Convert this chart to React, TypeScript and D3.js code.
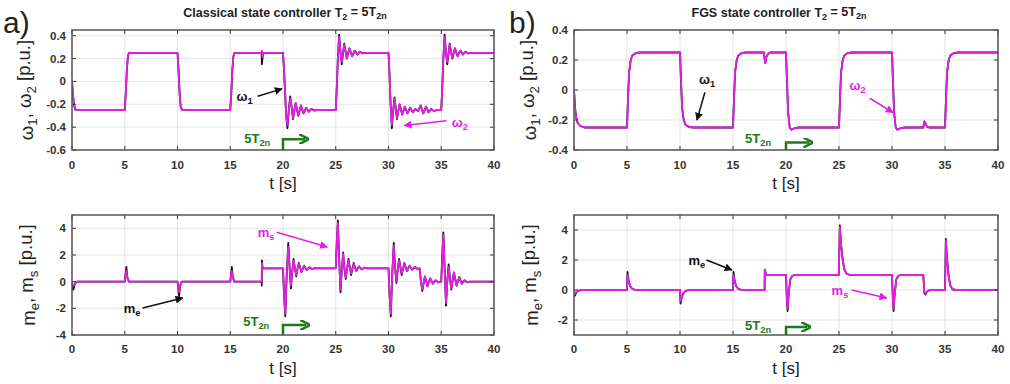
import React from 'react';
import * as d3 from 'd3';

type Pt = [number, number];

const W = 1010;
const H = 384;
const FONT = '"Liberation Sans", Arial, sans-serif';
const MAGENTA = '#e21fe2';
const GREEN = '#1d7a1d';

const timeTicks = [0, 5, 10, 15, 20, 25, 30, 35, 40];
const omegaTicksA = [-0.6, -0.4, -0.2, 0, 0.2, 0.4];
const omegaTicksB = [-0.4, -0.2, 0, 0.2, 0.4];
const torqueTicksA = [-4, -2, 0, 2, 4];
const torqueTicksB = [-2, 0, 2, 4];

// a) classical controller, speeds (omega2 magenta, omega1 black)
const omega2A: Pt[] = [
  [0, 0], [0.1, -0.12], [0.2, -0.2], [0.3, -0.24], [0.45, -0.25],
  [5.0, -0.25], [5.1, -0.1], [5.2, 0.1], [5.3, 0.22], [5.4, 0.25],
  [10.0, 0.25], [10.1, 0.1], [10.2, -0.1], [10.3, -0.22], [10.45, -0.25],
  [15.0, -0.25], [15.1, -0.1], [15.2, 0.1], [15.3, 0.22], [15.4, 0.25],
  [17.95, 0.25], [18.0, 0.27], [18.05, 0.21], [18.1, 0.24], [18.2, 0.25],
  [20.0, 0.25], [20.1, 0.1], [20.2, -0.1], [20.3, -0.3], [20.42, -0.38], [20.55, -0.25], [20.68, -0.15],
  [20.82, -0.22], [20.95, -0.32], [21.08, -0.25], [21.2, -0.19], [21.45, -0.3], [21.7, -0.21], [21.95, -0.28],
  [22.2, -0.23], [22.45, -0.265], [22.7, -0.24], [22.95, -0.255], [23.2, -0.25],
  [25.0, -0.25], [25.1, -0.05], [25.2, 0.2], [25.32, 0.39], [25.45, 0.25], [25.57, 0.17], [25.8, 0.32],
  [26.05, 0.2], [26.3, 0.29], [26.55, 0.22], [26.8, 0.27], [27.05, 0.235], [27.3, 0.26], [27.55, 0.245], [27.8, 0.25],
  [30.0, 0.25], [30.1, 0.05], [30.2, -0.2], [30.32, -0.38], [30.45, -0.25], [30.57, -0.15], [30.8, -0.32],
  [31.05, -0.2], [31.3, -0.29], [31.55, -0.22], [31.8, -0.28], [32.05, -0.23], [32.3, -0.27], [32.55, -0.24],
  [32.8, -0.26], [33.05, -0.21], [33.3, -0.28], [33.55, -0.22], [33.8, -0.27], [34.05, -0.24], [34.3, -0.26], [34.6, -0.25],
  [35.0, -0.25], [35.1, -0.05], [35.2, 0.2], [35.32, 0.39], [35.45, 0.25], [35.57, 0.17], [35.8, 0.32],
  [36.05, 0.2], [36.3, 0.29], [36.55, 0.22], [36.8, 0.27], [37.05, 0.235], [37.3, 0.26], [37.55, 0.245], [37.8, 0.25],
  [40, 0.25],
];

const omega1A: Pt[] = [
  [0, 0], [0.1, -0.13], [0.2, -0.21], [0.3, -0.245], [0.45, -0.25],
  [5.0, -0.25], [5.1, -0.1], [5.2, 0.1], [5.3, 0.22], [5.4, 0.25],
  [10.0, 0.25], [10.1, 0.1], [10.2, -0.1], [10.3, -0.22], [10.45, -0.25],
  [15.0, -0.25], [15.1, -0.1], [15.2, 0.1], [15.3, 0.22], [15.4, 0.25],
  [17.97, 0.25], [18.0, 0.15], [18.05, 0.2], [18.12, 0.25],
  [20.0, 0.25], [20.1, 0.1], [20.2, -0.1], [20.3, -0.3], [20.42, -0.41], [20.55, -0.25], [20.68, -0.13],
  [20.82, -0.22], [20.95, -0.33], [21.08, -0.25], [21.2, -0.19], [21.45, -0.3], [21.7, -0.21], [21.95, -0.28],
  [22.2, -0.23], [22.45, -0.265], [22.7, -0.24], [22.95, -0.255], [23.2, -0.25],
  [25.0, -0.25], [25.1, -0.05], [25.2, 0.2], [25.32, 0.41], [25.45, 0.25], [25.57, 0.15], [25.8, 0.33],
  [26.05, 0.2], [26.3, 0.29], [26.55, 0.22], [26.8, 0.27], [27.05, 0.235], [27.3, 0.26], [27.55, 0.245], [27.8, 0.25],
  [30.0, 0.25], [30.1, 0.05], [30.2, -0.2], [30.32, -0.41], [30.45, -0.25], [30.57, -0.14], [30.8, -0.33],
  [31.05, -0.2], [31.3, -0.29], [31.55, -0.22], [31.8, -0.28], [32.05, -0.23], [32.3, -0.27], [32.55, -0.24],
  [32.8, -0.26], [33.05, -0.21], [33.3, -0.28], [33.55, -0.22], [33.8, -0.27], [34.05, -0.24], [34.3, -0.26], [34.6, -0.25],
  [35.0, -0.25], [35.1, -0.05], [35.2, 0.2], [35.32, 0.41], [35.45, 0.25], [35.57, 0.15], [35.8, 0.33],
  [36.05, 0.2], [36.3, 0.29], [36.55, 0.22], [36.8, 0.27], [37.05, 0.235], [37.3, 0.26], [37.55, 0.245], [37.8, 0.25],
  [40, 0.25],
];

// a) torques (ms magenta, me black)
const msA: Pt[] = [
  [0, 0], [0.05, -0.3], [0.15, -0.3], [0.3, -0.1], [0.5, 0],
  [5.0, 0], [5.08, 0.5], [5.15, 0.8], [5.25, 0.3], [5.4, 0],
  [10.0, 0], [10.08, -0.5], [10.15, -0.8], [10.25, -0.3], [10.4, 0],
  [15.0, 0], [15.08, 0.5], [15.15, 0.8], [15.25, 0.3], [15.4, 0],
  [17.98, 0], [18.0, 1.4], [18.05, 1.1], [18.1, 1.0],
  [20.0, 1.0], [20.1, -1.0], [20.22, -2.4], [20.35, 0.5], [20.5, 2.6], [20.63, 1.0], [20.75, -0.3],
  [20.88, 0.8], [21.0, 1.6], [21.13, 1.0], [21.25, 0.5], [21.38, 1.0], [21.5, 1.35], [21.75, 0.75],
  [22.0, 1.2], [22.25, 0.88], [22.5, 1.08], [22.75, 0.95], [23.0, 1.02], [23.3, 1.0],
  [25.0, 1.0], [25.1, 3.0], [25.2, 4.4], [25.32, 1.8], [25.45, -0.6], [25.57, 0.8], [25.7, 2.1],
  [25.82, 1.0], [25.95, 0.3], [26.2, 1.6], [26.45, 0.6], [26.7, 1.35], [26.95, 0.8], [27.2, 1.15],
  [27.45, 0.92], [27.7, 1.05], [28.0, 1.0],
  [30.0, 1.0], [30.1, -1.0], [30.22, -2.4], [30.35, 0.5], [30.5, 2.7], [30.63, 1.0], [30.75, 0.0],
  [30.88, 0.9], [31.0, 1.6], [31.25, 0.6], [31.5, 1.4], [31.75, 0.8], [32.0, 1.2], [32.25, 0.9],
  [32.5, 1.1], [32.75, 0.95], [32.95, 1.0], [33.05, 0.2], [33.2, -0.6], [33.45, 0.4], [33.7, -0.35],
  [33.95, 0.25], [34.2, -0.15], [34.45, 0.1], [34.7, -0.05], [34.95, 0],
  [35.0, 0], [35.1, 2.0], [35.2, 3.5], [35.32, 1.0], [35.45, -1.6], [35.57, 0.0], [35.7, 1.1],
  [35.82, 0.3], [35.95, -0.5], [36.2, 0.7], [36.45, -0.3], [36.7, 0.35], [36.95, -0.15], [37.2, 0.1],
  [37.45, -0.05], [37.7, 0], [40, 0],
];

const meA: Pt[] = [
  [0, 0], [0.05, -0.4], [0.12, -0.6], [0.3, -0.1], [0.5, 0],
  [5.0, 0], [5.08, 0.6], [5.15, 1.1], [5.25, 0.3], [5.4, 0],
  [10.0, 0], [10.08, -0.6], [10.15, -1.1], [10.25, -0.3], [10.4, 0],
  [15.0, 0], [15.08, 0.6], [15.15, 1.1], [15.25, 0.3], [15.4, 0],
  [17.97, 0], [17.99, -0.3], [18.0, 1.6], [18.05, 1.1], [18.1, 1.0],
  [20.0, 1.0], [20.1, -1.0], [20.22, -2.6], [20.35, 0.5], [20.5, 2.9], [20.63, 1.0], [20.75, -0.5],
  [20.88, 0.8], [21.0, 1.7], [21.13, 1.0], [21.25, 0.4], [21.38, 1.0], [21.5, 1.4], [21.75, 0.72],
  [22.0, 1.2], [22.25, 0.88], [22.5, 1.08], [22.75, 0.95], [23.0, 1.02], [23.3, 1.0],
  [25.0, 1.0], [25.1, 3.0], [25.2, 4.6], [25.32, 1.8], [25.45, -0.8], [25.57, 0.8], [25.7, 2.2],
  [25.82, 1.0], [25.95, 0.2], [26.2, 1.7], [26.45, 0.5], [26.7, 1.4], [26.95, 0.8], [27.2, 1.15],
  [27.45, 0.92], [27.7, 1.05], [28.0, 1.0],
  [30.0, 1.0], [30.1, -1.0], [30.22, -2.6], [30.35, 0.5], [30.5, 2.9], [30.63, 1.0], [30.75, -0.1],
  [30.88, 0.9], [31.0, 1.7], [31.25, 0.5], [31.5, 1.4], [31.75, 0.8], [32.0, 1.2], [32.25, 0.9],
  [32.5, 1.1], [32.75, 0.95], [32.95, 1.0], [33.05, 0.2], [33.2, -0.7], [33.45, 0.4], [33.7, -0.35],
  [33.95, 0.25], [34.2, -0.15], [34.45, 0.1], [34.7, -0.05], [34.95, 0],
  [35.0, 0], [35.1, 2.0], [35.2, 3.7], [35.32, 1.0], [35.45, -1.8], [35.57, 0.0], [35.7, 1.3],
  [35.82, 0.3], [35.95, -0.6], [36.2, 0.7], [36.45, -0.3], [36.7, 0.35], [36.95, -0.15], [37.2, 0.1],
  [37.45, -0.05], [37.7, 0], [40, 0],
];

// b) FGS controller, speed (both speeds overlap)
const omegaB: Pt[] = [
  [0, 0], [0.1, -0.12], [0.2, -0.18], [0.35, -0.22], [0.6, -0.24], [1.0, -0.25],
  [5.0, -0.25], [5.1, -0.05], [5.2, 0.12], [5.35, 0.2], [5.5, 0.23], [5.8, 0.245], [6.2, 0.25],
  [10.0, 0.25], [10.1, 0.05], [10.2, -0.12], [10.35, -0.2], [10.5, -0.23], [10.8, -0.245], [11.2, -0.25],
  [15.0, -0.25], [15.1, -0.05], [15.2, 0.12], [15.35, 0.2], [15.5, 0.23], [15.8, 0.245], [16.2, 0.25],
  [17.9, 0.25], [18.0, 0.2], [18.05, 0.18], [18.15, 0.22], [18.3, 0.24], [18.5, 0.25],
  [20.0, 0.25], [20.1, 0.05], [20.2, -0.15], [20.35, -0.25], [20.5, -0.265], [20.8, -0.255], [21.2, -0.25],
  [25.0, -0.25], [25.1, -0.05], [25.2, 0.12], [25.35, 0.2], [25.5, 0.23], [25.8, 0.245], [26.2, 0.25],
  [30.0, 0.25], [30.1, 0.05], [30.2, -0.15], [30.35, -0.25], [30.5, -0.265], [30.8, -0.255], [31.2, -0.25],
  [32.95, -0.25], [33.05, -0.21], [33.15, -0.22], [33.3, -0.245], [33.5, -0.25],
  [35.0, -0.25], [35.1, -0.05], [35.2, 0.12], [35.35, 0.2], [35.5, 0.23], [35.8, 0.245], [36.2, 0.25],
  [40, 0.25],
];

// b) torques
const msB: Pt[] = [
  [0, 0], [0.03, -0.3], [0.1, -0.25], [0.25, -0.1], [0.5, -0.03], [0.8, 0],
  [5.0, 0], [5.05, 1.0], [5.15, 0.6], [5.3, 0.25], [5.5, 0.08], [5.8, 0],
  [10.0, 0], [10.05, -0.75], [10.15, -0.5], [10.3, -0.22], [10.5, -0.08], [10.8, 0],
  [15.0, 0], [15.05, 1.0], [15.15, 0.6], [15.3, 0.25], [15.5, 0.08], [15.8, 0],
  [17.98, 0], [18.0, 1.35], [18.1, 1.1], [18.2, 1.0],
  [20.0, 1.0], [20.08, -0.5], [20.15, -1.25], [20.25, -0.3], [20.4, 0.7], [20.6, 0.95], [20.8, 1.0],
  [24.98, 1.0], [25.08, 4.2], [25.2, 3.0], [25.35, 2.0], [25.5, 1.4], [25.7, 1.1], [26.0, 1.0],
  [30.0, 1.0], [30.08, -0.5], [30.15, -1.25], [30.25, -0.3], [30.4, 0.7], [30.6, 0.95], [30.8, 1.0],
  [32.95, 1.0], [33.05, -0.15], [33.15, -0.25], [33.3, -0.1], [33.5, -0.02], [33.7, 0],
  [35.0, 0], [35.08, 3.3], [35.2, 2.0], [35.35, 0.9], [35.5, 0.3], [35.7, 0.05], [36.0, 0],
  [40, 0],
];

const meB: Pt[] = [
  [0, 0], [0.03, -0.4], [0.1, -0.35], [0.25, -0.12], [0.5, -0.03], [0.8, 0],
  [5.0, 0], [5.05, 1.2], [5.15, 0.65], [5.3, 0.25], [5.5, 0.08], [5.8, 0],
  [10.0, 0], [10.05, -0.9], [10.15, -0.55], [10.3, -0.22], [10.5, -0.08], [10.8, 0],
  [15.0, 0], [15.05, 1.2], [15.15, 0.65], [15.3, 0.25], [15.5, 0.08], [15.8, 0],
  [17.98, 0], [18.0, 1.35], [18.1, 1.1], [18.2, 1.0],
  [20.0, 1.0], [20.08, -0.6], [20.15, -1.4], [20.25, -0.3], [20.4, 0.7], [20.6, 0.95], [20.8, 1.0],
  [24.98, 1.0], [25.08, 4.3], [25.2, 3.0], [25.35, 2.0], [25.5, 1.4], [25.7, 1.1], [26.0, 1.0],
  [30.0, 1.0], [30.08, -0.6], [30.15, -1.4], [30.25, -0.3], [30.4, 0.7], [30.6, 0.95], [30.8, 1.0],
  [32.95, 1.0], [33.05, -0.2], [33.15, -0.3], [33.3, -0.1], [33.5, -0.02], [33.7, 0],
  [35.0, 0], [35.08, 3.4], [35.2, 2.0], [35.35, 0.9], [35.5, 0.3], [35.7, 0.05], [36.0, 0],
  [40, 0],
];

type Scales = { x: d3.ScaleLinear<number, number>; y: d3.ScaleLinear<number, number> };

// text made of [string, isSubscript] parts, rendered as tspans without empty ones
type Part = [string, boolean];
function richText(parts: Part[]) {
  let prevSub = false;
  return parts.map(([s, sub], i) => {
    let dy: string | undefined;
    if (sub && !prevSub) dy = '0.32em';
    else if (!sub && prevSub) dy = '-0.32em';
    prevSub = sub;
    return (
      <tspan key={i} dy={dy} fontSize={sub ? '0.72em' : undefined}>{s}</tspan>
    );
  });
}

interface PanelProps {
  id: string;
  x0: number; x1: number; y0: number; y1: number;
  yDomain: [number, number];
  yTicks: number[];
  series: { data: Pt[]; color: string }[];
  yLabel: Part[];
  yLabelX: number;
  xLabelY: number;
  tickLabelY: number;
  annotate: (s: Scales) => React.ReactNode;
}

const Arrow = ({ x1, y1, x2, y2, color, marker }: { x1: number; y1: number; x2: number; y2: number; color: string; marker: string }) => (
  <line x1={x1} y1={y1} x2={x2} y2={y2} stroke={color} strokeWidth={1.5} markerEnd={`url(#${marker})`} />
);

const StepArrow = ({ s, t0, t1, vb, vt }: { s: Scales; t0: number; t1: number; vb: number; vt: number }) => (
  <path
    d={`M${s.x(t0)},${s.y(vb)}V${s.y(vt)}H${s.x(t1)}`}
    fill="none" stroke={GREEN} strokeWidth={2.5} markerEnd="url(#headG)"
  />
);

const Note = ({ s, t, v, color, parts, anchor }: { s: Scales; t: number; v: number; color: string; parts: Part[]; anchor?: string }) => (
  <text x={s.x(t)} y={s.y(v)} textAnchor={anchor || 'start'} fill={color} fontSize={13} fontWeight="bold">
    {richText(parts)}
  </text>
);

const green5T: Part[] = [['5T', false], ['2n', true]];

function Panel(p: PanelProps) {
  const x = d3.scaleLinear().domain([0, 40]).range([p.x0, p.x1]);
  const y = d3.scaleLinear().domain(p.yDomain).range([p.y1, p.y0]);
  const line = d3.line<Pt>().x(d => x(d[0])).y(d => y(d[1]));
  const tl = 4;
  return (
    <g>
      <rect x={p.x0} y={p.y0} width={p.x1 - p.x0} height={p.y1 - p.y0} fill="#fff" />
      {timeTicks.map(t => (
        <line key={'gx' + t} x1={x(t)} x2={x(t)} y1={p.y0} y2={p.y1} stroke="#dedede" strokeWidth={0.8} />
      ))}
      {p.yTicks.map(v => (
        <line key={'gy' + v} x1={p.x0} x2={p.x1} y1={y(v)} y2={y(v)} stroke="#dedede" strokeWidth={0.8} />
      ))}
      <clipPath id={'clip' + p.id}>
        <rect x={p.x0} y={p.y0} width={p.x1 - p.x0} height={p.y1 - p.y0} />
      </clipPath>
      <g clipPath={`url(#clip${p.id})`}>
        {p.series.map((sr, i) => (
          <path key={i} d={line(sr.data) || ''} fill="none" stroke={sr.color} strokeWidth={1.8} strokeLinejoin="round" />
        ))}
      </g>
      {timeTicks.map(t => (
        <g key={'tx' + t}>
          <line x1={x(t)} x2={x(t)} y1={p.y1} y2={p.y1 - tl} stroke="#333" />
          <line x1={x(t)} x2={x(t)} y1={p.y0} y2={p.y0 + tl} stroke="#333" />
          <text x={x(t)} y={p.tickLabelY} textAnchor="middle" fontSize={11.5} fontWeight="bold" fill="#333">{t}</text>
        </g>
      ))}
      {p.yTicks.map(v => (
        <g key={'ty' + v}>
          <line x1={p.x0} x2={p.x0 + tl} y1={y(v)} y2={y(v)} stroke="#333" />
          <line x1={p.x1} x2={p.x1 - tl} y1={y(v)} y2={y(v)} stroke="#333" />
          <text x={p.x0 - 6} y={y(v) + 4} textAnchor="end" fontSize={11.5} fontWeight="bold" fill="#333">{String(v)}</text>
        </g>
      ))}
      <rect x={p.x0} y={p.y0} width={p.x1 - p.x0} height={p.y1 - p.y0} fill="none" stroke="#555" strokeWidth={1.5} />
      <text x={(p.x0 + p.x1) / 2} y={p.xLabelY} textAnchor="middle" fontSize={17} fill="#222">t [s]</text>
      <text
        transform={`translate(${p.yLabelX},${(p.y0 + p.y1) / 2}) rotate(-90)`}
        textAnchor="middle" fontSize={18.5} fill="#222"
      >
        {richText(p.yLabel)}
      </text>
      {p.annotate({ x, y })}
    </g>
  );
}

const omegaLabel: Part[] = [['\u03c9', false], ['1', true], [', \u03c9', false], ['2', true], [' [p.u.]', false]];
const torqueLabel: Part[] = [['m', false], ['e', true], [', m', false], ['s', true], [' [p.u.]', false]];

export default function App() {
  return (
    <svg width={W} height={H} style={{ position: 'absolute', left: 0, top: 0, fontFamily: FONT }}>
      <defs>
        <marker id="headK" viewBox="0 0 10 10" refX="9" refY="5" markerWidth="8" markerHeight="8" orient="auto" markerUnits="userSpaceOnUse">
          <path d="M0,0L10,5L0,10z" fill="#111" />
        </marker>
        <marker id="headM" viewBox="0 0 10 10" refX="9" refY="5" markerWidth="8" markerHeight="8" orient="auto" markerUnits="userSpaceOnUse">
          <path d="M0,0L10,5L0,10z" fill={MAGENTA} />
        </marker>
        <marker id="headG" viewBox="0 0 10 10" refX="6" refY="5" markerWidth="10" markerHeight="10" orient="auto" markerUnits="userSpaceOnUse">
          <path d="M0,0L10,5L0,10" fill="none" stroke={GREEN} strokeWidth={2.5} />
        </marker>
      </defs>
      <rect width={W} height={H} fill="#fff" />

      <text x={3} y={33} fontSize={30} fill="#222">a)</text>
      <text x={509} y={33} fontSize={30} fill="#222">b)</text>

      <text x={285} y={17} textAnchor="middle" fontSize={12.5} fontWeight="bold" fill="#222">
        {richText([['Classical state controller T', false], ['2', true], [' = 5T', false], ['2n', true]])}
      </text>
      <text x={779} y={17} textAnchor="middle" fontSize={12.5} fontWeight="bold" fill="#222">
        {richText([['FGS state controller T', false], ['2', true], [' = 5T', false], ['2n', true]])}
      </text>

      <Panel
        id="a1" x0={72} x1={494} y0={30} y1={150}
        yDomain={[-0.6, 0.45]} yTicks={omegaTicksA}
        series={[{ data: omega1A, color: '#111' }, { data: omega2A, color: MAGENTA }]}
        yLabel={omegaLabel} yLabelX={33} xLabelY={189} tickLabelY={169}
        annotate={s => (
          <>
            <Note s={s} t={15.6} v={-0.17} color="#111" parts={[['\u03c9', false], ['1', true]]} />
            <Arrow x1={s.x(17.6)} y1={s.y(-0.13)} x2={s.x(19.9)} y2={s.y(-0.065)} color="#111" marker="headK" />
            <Note s={s} t={36.0} v={-0.4} color={MAGENTA} parts={[['\u03c9', false], ['2', true]]} />
            <Arrow x1={s.x(35.5)} y1={s.y(-0.345)} x2={s.x(31.5)} y2={s.y(-0.385)} color={MAGENTA} marker="headM" />
            <Note s={s} t={18.8} v={-0.54} color={GREEN} parts={green5T} anchor="end" />
            <StepArrow s={s} t0={20} t1={22.1} vb={-0.6} vt={-0.505} />
          </>
        )}
      />

      <Panel
        id="b1" x0={574} x1={998} y0={30} y1={150}
        yDomain={[-0.4, 0.4]} yTicks={omegaTicksB}
        series={[{ data: omegaB, color: '#111' }, { data: omegaB, color: MAGENTA }]}
        yLabel={omegaLabel} yLabelX={536} xLabelY={189} tickLabelY={169}
        annotate={s => (
          <>
            <Note s={s} t={11.8} v={0.04} color="#111" parts={[['\u03c9', false], ['1', true]]} />
            <Arrow x1={s.x(12.35)} y1={s.y(-0.015)} x2={s.x(11.6)} y2={s.y(-0.2)} color="#111" marker="headK" />
            <Note s={s} t={26.0} v={0.0} color={MAGENTA} parts={[['\u03c9', false], ['2', true]]} />
            <Arrow x1={s.x(27.9)} y1={s.y(-0.055)} x2={s.x(30.1)} y2={s.y(-0.15)} color={MAGENTA} marker="headM" />
            <Note s={s} t={18.6} v={-0.353} color={GREEN} parts={green5T} anchor="end" />
            <StepArrow s={s} t0={20} t1={22.2} vb={-0.4} vt={-0.35} />
          </>
        )}
      />

      <Panel
        id="a2" x0={72} x1={494} y0={215} y1={335}
        yDomain={[-4, 5]} yTicks={torqueTicksA}
        series={[{ data: meA, color: '#111' }, { data: msA, color: MAGENTA }]}
        yLabel={torqueLabel} yLabelX={35} xLabelY={374} tickLabelY={353}
        annotate={s => (
          <>
            <Note s={s} t={17.6} v={3.35} color={MAGENTA} parts={[['m', false], ['s', true]]} />
            <Arrow x1={s.x(19.4)} y1={s.y(3.7)} x2={s.x(24.2)} y2={s.y(2.6)} color={MAGENTA} marker="headM" />
            <Note s={s} t={4.9} v={-2.35} color="#111" parts={[['m', false], ['e', true]]} />
            <Arrow x1={s.x(6.7)} y1={s.y(-1.98)} x2={s.x(10.5)} y2={s.y(-1.22)} color="#111" marker="headK" />
            <Note s={s} t={18.7} v={-3.35} color={GREEN} parts={green5T} anchor="end" />
            <StepArrow s={s} t0={20} t1={22.2} vb={-4} vt={-3.25} />
          </>
        )}
      />

      <Panel
        id="b2" x0={574} x1={998} y0={215} y1={335}
        yDomain={[-3, 5]} yTicks={torqueTicksB}
        series={[{ data: meB, color: '#111' }, { data: msB, color: MAGENTA }]}
        yLabel={torqueLabel} yLabelX={538} xLabelY={374} tickLabelY={353}
        annotate={s => (
          <>
            <Note s={s} t={10.8} v={1.67} color="#111" parts={[['m', false], ['e', true]]} />
            <Arrow x1={s.x(12.5)} y1={s.y(2.0)} x2={s.x(14.9)} y2={s.y(1.33)} color="#111" marker="headK" />
            <Note s={s} t={24.3} v={-0.33} color={MAGENTA} parts={[['m', false], ['s', true]]} />
            <Arrow x1={s.x(26.2)} y1={s.y(0.0)} x2={s.x(29.5)} y2={s.y(-0.53)} color={MAGENTA} marker="headM" />
            <Note s={s} t={18.6} v={-2.67} color={GREEN} parts={green5T} anchor="end" />
            <StepArrow s={s} t0={20} t1={22} vb={-3} vt={-2.47} />
          </>
        )}
      />
    </svg>
  );
}
